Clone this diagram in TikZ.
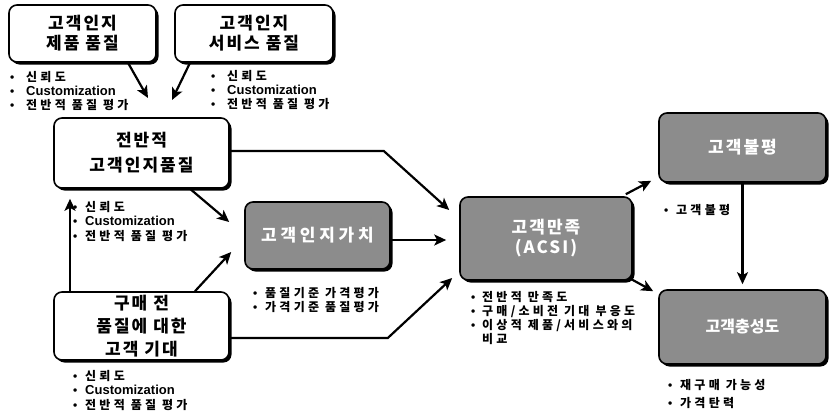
\documentclass[tikz,border=0pt]{standalone}
\usepackage{fontspec}
\setmainfont{Liberation Sans}
\newfontfamily\kr{Noto Sans CJK KR}
\newfontfamily\la{Liberation Sans}
\usetikzlibrary{arrows.meta,shadows,calc}
\tikzset{
  box/.style={draw=black, line width=1.6pt, rounded corners=8pt, fill=white,
    drop shadow={shadow xshift=2.5pt, shadow yshift=-2.5pt, fill=black, opacity=1},
    align=center, inner sep=0pt},
  gbox/.style={box, fill=black!45, text=white},
  ttl/.style={font=\kr\bfseries\fontsize{17}{#1}\selectfont\addfontfeature{LetterSpace=12}},
  arr/.style={line width=2.2pt, -{Stealth[length=12pt,width=11pt,inset=3pt]}},
  blist/.style={anchor=north west, align=left, inner sep=0pt,
    font=\kr\bfseries\fontsize{12}{#1}\selectfont\addfontfeature{LetterSpace=27}},
  blist/.default=14
}
% bullet mark followed by the gap before the item text
\newcommand\bu[1][12pt]{\makebox[#1][l]{\la\textbullet}}
\newcommand\cz{{\la\bfseries\fontsize{13}{13}\selectfont Customization}}
\begin{document}
\begin{tikzpicture}[x=1pt,y=-1pt]
\useasboundingbox (0,0) rectangle (830,413);

% quality boxes
\node[box, ttl=20, minimum width=147pt, minimum height=57pt] (b1) at (82.5,33.5) {고객인지\\제품 품질};
\node[box, ttl=20, minimum width=158pt, minimum height=57pt] (b2) at (254,33.5) {고객인지\\서비스 품질};
\node[box, ttl=25, minimum width=175pt, minimum height=70pt] (b3) at (141.5,153) {전반적\\고객인지품질};
\node[box, ttl=23, minimum width=175pt, minimum height=68pt] (b5) at (141.5,326) {구매 전\\품질에 대한\\고객 기대};

% grey result boxes
\node[gbox, ttl=20, minimum width=145pt, minimum height=67pt] (b4) at (317.5,235.5) {\addfontfeature{LetterSpace=22}고객인지가치};
\node[gbox, ttl=20, minimum width=172pt, minimum height=83pt] (b6) at (546,238.5) {고객만족\\(ACSI)};
\node[gbox, ttl=20, minimum width=167pt, minimum height=69pt] (b7) at (742.5,147.5) {고객불평};
\node[gbox, ttl=20, minimum width=167pt, minimum height=74pt] (b8) at (742.5,327) {\fontsize{16}{20}\selectfont\addfontfeature{LetterSpace=0}고객충성도};

% bullet lists
\node[blist] (l1) at (10,71) {\bu[16pt]신뢰도\\\bu[16pt]\cz\\\bu[16pt]전반적 품질 평가};
\node[blist] (l2) at (211,70) {\bu[16pt]신뢰도\\\bu[16pt]\cz\\\bu[16pt]전반적 품질 평가};
\node[blist=14.5] (l3) at (73,201) {\bu 신뢰도\\\bu\cz\\\bu 전반적 품질 평가};
\node[blist] (l4) at (253,287) {\bu 품질기준 가격평가\\\bu 가격기준 품질평가};
\node[blist=14.5] (l5) at (73,370) {\bu 신뢰도\\\bu\cz\\\bu 전반적 품질 평가};
\node[blist] (l6) at (471,291) {\bu[11pt]전반적 만족도\\\bu[11pt]구매/소비전 기대 부응도\\\bu[11pt]이상적 제품/서비스와의\\\makebox[11pt]{}비교};
\node[blist] (l7) at (664,204) {\bu 고객불평};
\node[blist=18] (l8) at (668,379) {\bu 재구매 가능성\\\bu 가격탄력};

% free ends of the two upper arrows
\coordinate (c1) at (148,98);
\coordinate (c2) at (172,100);

% connectors
\draw[arr] ($(b1.south)+(45.5,0)$) -- (c1);
\draw[arr] ($(b2.south)+(-64,0)$) -- (c2);
\draw[arr] ($(b3.south)+(48.5,0)$) -- ($(b4.west)+(-15,-13.5)$);
\draw[arr] ($(b5.north)+(53.5,0)$) -- ($(b4.west)+(-13,16.5)$);
\draw[arr] ($(b5.north)+(-71.5,0)$) -- ($(b3.south)+(-71.5,10)$);
\draw[arr, line join=miter] ($(b3.east)+(0,-2)$) -- ++(154,0) -- ($(b6.west)+(-10,-28.5)$);
\draw[arr] ($(b4.east)+(0,4.5)$) -- ($(b6.west)+(-13,1.5)$);
\draw[arr, line join=miter] ($(b5.east)+(0,12)$) -- ++(158,0) -- ($(b6.west)+(-7,39.5)$);
\draw[arr] ($(b6.north east)+(-7,-2)$) -- ($(b7.south west)+(-7,-2)$);
\draw[arr] ($(b6.south east)+(-4,-3)$) -- ($(b8.north west)+(-5,2)$);
\draw[arr] (b7.south) -- ($(b8.north)+(0,-5)$);
\end{tikzpicture}
\end{document}
